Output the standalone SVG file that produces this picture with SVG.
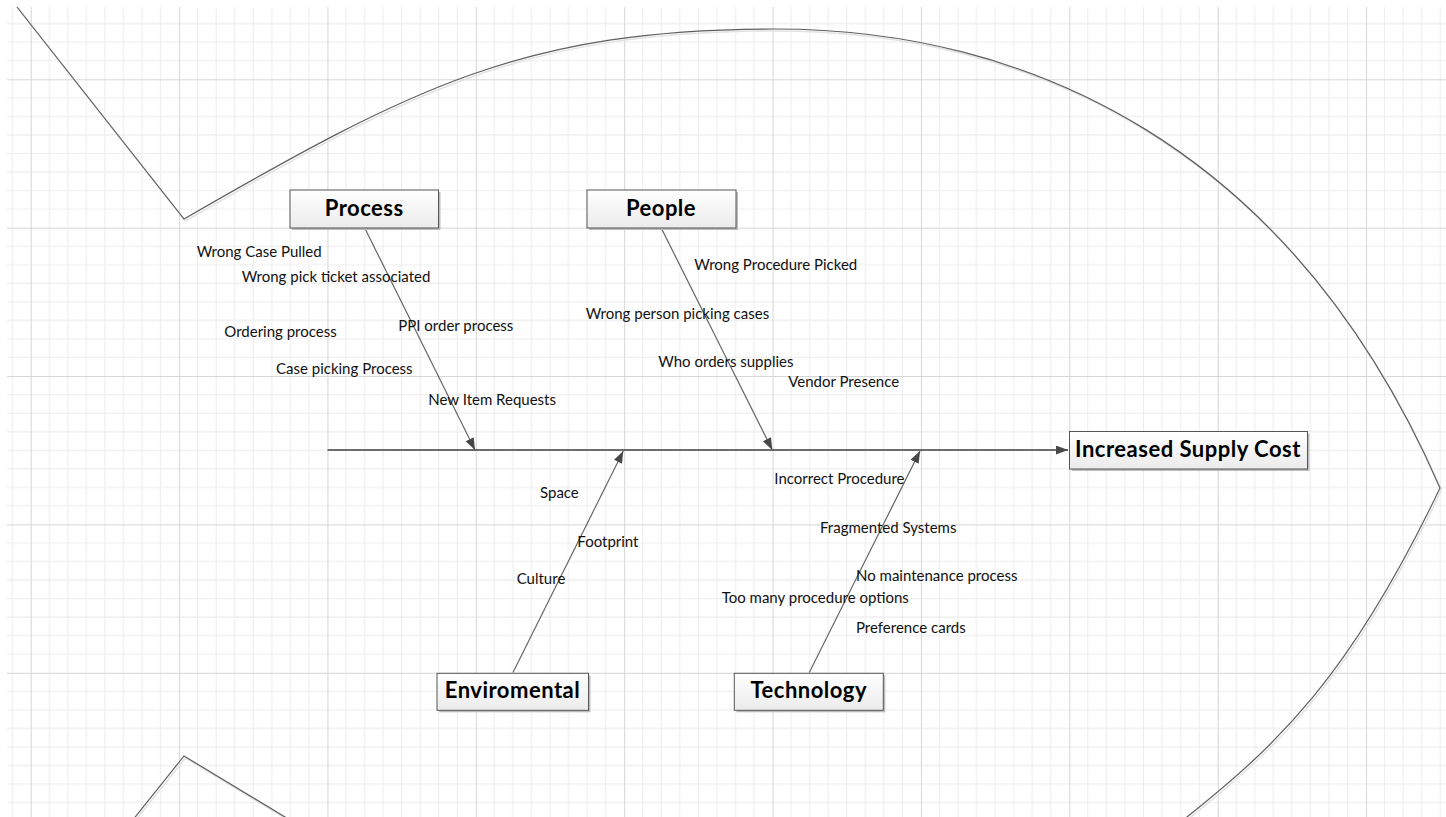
<svg xmlns="http://www.w3.org/2000/svg" width="1446" height="817" viewBox="0 0 1446 817">
  <style>
    .grid-minor { stroke: #ececec; stroke-width: 1; }
    .grid-major { stroke: #d6d6d6; stroke-width: 1; }
    .outline { fill: none; stroke: #5f5f5f; stroke-width: 1.2; stroke-linejoin: miter; }
    .outline-shadow { fill: none; stroke: #e2e2e2; stroke-width: 1.5; }
    .bone { fill: none; stroke: #666666; stroke-width: 1.2; }
    .spine { fill: none; stroke: #3f3f3f; stroke-width: 1.3; }
    .box { fill: url(#boxfill); stroke: #555555; stroke-width: 1; }
    .box-shadow { fill: #bdbdbd; }
    .title { font-family: Lato, "Liberation Sans", sans-serif; font-weight: bold; font-size: 22px; letter-spacing: 0.5px; fill: #000000; text-anchor: middle; }
    .label { font-family: Lato, "Liberation Sans", sans-serif; font-size: 15px; fill: #111111; }
  </style>
  <defs>
    <pattern id="grid" patternUnits="userSpaceOnUse" x="30.7" y="79.3" width="148.37" height="148.37">
      <g class="grid-minor">
        <line x1="18.55" y1="0" x2="18.55" y2="148.37"/>
        <line x1="37.09" y1="0" x2="37.09" y2="148.37"/>
        <line x1="55.64" y1="0" x2="55.64" y2="148.37"/>
        <line x1="74.18" y1="0" x2="74.18" y2="148.37"/>
        <line x1="92.73" y1="0" x2="92.73" y2="148.37"/>
        <line x1="111.28" y1="0" x2="111.28" y2="148.37"/>
        <line x1="129.82" y1="0" x2="129.82" y2="148.37"/>
        <line x1="0" y1="18.55" x2="148.37" y2="18.55"/>
        <line x1="0" y1="37.09" x2="148.37" y2="37.09"/>
        <line x1="0" y1="55.64" x2="148.37" y2="55.64"/>
        <line x1="0" y1="74.18" x2="148.37" y2="74.18"/>
        <line x1="0" y1="92.73" x2="148.37" y2="92.73"/>
        <line x1="0" y1="111.28" x2="148.37" y2="111.28"/>
        <line x1="0" y1="129.82" x2="148.37" y2="129.82"/>
      </g>
      <g class="grid-major">
        <line x1="0.5" y1="0" x2="0.5" y2="148.37"/>
        <line x1="0" y1="0.5" x2="148.37" y2="0.5"/>
      </g>
    </pattern>
    <linearGradient id="boxfill" x1="0" y1="0" x2="0" y2="1">
      <stop offset="0" stop-color="#ffffff"/>
      <stop offset="1" stop-color="#ebebeb"/>
    </linearGradient>
    <marker id="arrow" markerUnits="userSpaceOnUse" markerWidth="13" markerHeight="10" refX="12" refY="4.5" orient="auto">
      <path d="M0,0 L12,4.5 L0,9 z" fill="#474747"/>
    </marker>
  </defs>

  <rect x="0" y="0" width="1446" height="817" fill="#ffffff"/>
  <rect x="7" y="7" width="1439" height="810" fill="url(#grid)"/>

  <g id="fish-outline">
    <path class="outline-shadow" d="M18.5,9 L185.5,221 C414.5,89 526.5,31 776.5,31 C1026.5,31 1291.5,145 1441.5,490 C1351.5,679 1278.5,747 1188.5,819 L1163.5,839"/>
    <path class="outline-shadow" d="M121.5,838 L185.5,758 L318,838"/>
    <path class="outline" d="M17,7 L184,219 C413,87 525,29 775,29 C1025,29 1290,143 1440,488 C1350,677 1277,745 1187,817 L1162,837"/>
    <path class="outline" d="M120,836 L184,756 L316.5,836"/>
  </g>

  <g id="connectors">
    <line class="spine" x1="327.5" y1="450" x2="1068" y2="450" marker-end="url(#arrow)"/>
    <line class="bone" x1="365" y1="228.5" x2="475" y2="450" marker-end="url(#arrow)"/>
    <line class="bone" x1="661.5" y1="228.5" x2="772.3" y2="450" marker-end="url(#arrow)"/>
    <line class="bone" x1="513" y1="672.5" x2="623.3" y2="451" marker-end="url(#arrow)"/>
    <line class="bone" x1="809.3" y1="672.5" x2="920" y2="451" marker-end="url(#arrow)"/>
  </g>

  <g id="node-process">
    <rect class="box-shadow" x="292" y="192" width="148.5" height="38"/>
    <rect class="box" x="290" y="190" width="148.5" height="38"/>
    <text class="title" x="364.2" y="215.7">Process</text>
  </g>

  <g id="node-people">
    <rect class="box-shadow" x="589" y="192" width="149" height="38"/>
    <rect class="box" x="587" y="190" width="149" height="38"/>
    <text class="title" x="661" y="215.7">People</text>
  </g>

  <g id="node-enviromental">
    <rect class="box-shadow" x="439" y="675.3" width="151.5" height="37"/>
    <rect class="box" x="437" y="673.3" width="151.5" height="37"/>
    <text class="title" x="512.5" y="698.3">Enviromental</text>
  </g>

  <g id="node-technology">
    <rect class="box-shadow" x="736.3" y="675.3" width="149" height="37"/>
    <rect class="box" x="734.3" y="673.3" width="149" height="37"/>
    <text class="title" x="808.8" y="698.3">Technology</text>
  </g>

  <g id="node-effect">
    <rect class="box-shadow" x="1071.5" y="433.5" width="238" height="37.5"/>
    <rect class="box" x="1069.5" y="431.5" width="238" height="37.5"/>
    <text class="title" x="1188" y="456.7">Increased Supply Cost</text>
  </g>

  <g id="labels-process">
    <text class="label" x="196.7" y="256.7">Wrong Case Pulled</text>
    <text class="label" x="241.7" y="281.7">Wrong pick ticket associated</text>
    <text class="label" x="224.3" y="336.7">Ordering process</text>
    <text class="label" x="398.3" y="330.5">PPI order process</text>
    <text class="label" x="276" y="374">Case picking Process</text>
    <text class="label" x="428.3" y="405">New Item Requests</text>
  </g>

  <g id="labels-people">
    <text class="label" x="694.3" y="270">Wrong Procedure Picked</text>
    <text class="label" x="585.7" y="319.3">Wrong person picking cases</text>
    <text class="label" x="658.3" y="367.3">Who orders supplies</text>
    <text class="label" x="788.3" y="387.3">Vendor Presence</text>
  </g>

  <g id="labels-enviromental">
    <text class="label" x="540" y="498.3">Space</text>
    <text class="label" x="577.3" y="546.7">Footprint</text>
    <text class="label" x="516.7" y="584">Culture</text>
  </g>

  <g id="labels-technology">
    <text class="label" x="774.3" y="484.3">Incorrect Procedure</text>
    <text class="label" x="820" y="533.3">Fragmented Systems</text>
    <text class="label" x="856" y="581">No maintenance process</text>
    <text class="label" x="721.7" y="603.3">Too many procedure options</text>
    <text class="label" x="856" y="633.3">Preference cards</text>
  </g>
</svg>
